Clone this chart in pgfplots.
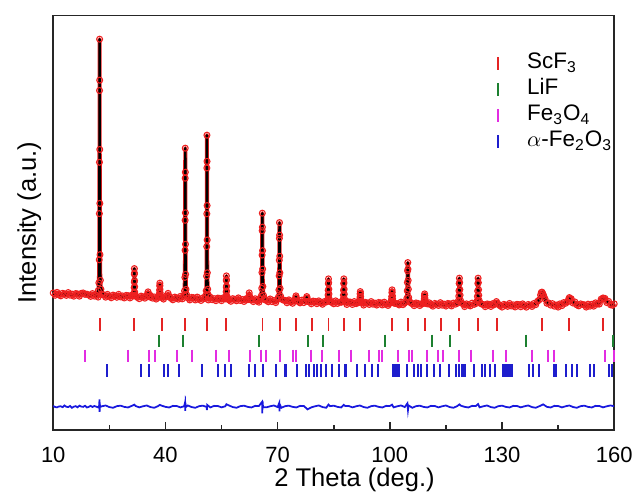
\documentclass[border=0pt]{standalone}
\usepackage{fontspec}
\setmainfont{Liberation Sans}
\usepackage{pgfplots}
\pgfplotsset{compat=1.18}
\definecolor{obsred}{RGB}{238,32,32}
\definecolor{scred}{RGB}{228,36,36}
\definecolor{lifgreen}{RGB}{28,128,48}
\definecolor{femag}{RGB}{226,44,226}
\definecolor{feblue}{RGB}{30,30,205}
\definecolor{diffblue}{RGB}{24,24,222}

\begin{document}
\begin{tikzpicture}
\begin{axis}[
    at={(0,0)}, anchor=south west,
    scale only axis,
    width=255pt, height=188.4pt,
    xmin=10, xmax=160, ymin=0, ymax=414.5,
    xtick={10,40,70,100,130,160},
    minor xtick={25,55,85,115,145},
    ytick=\empty,
    xtick pos=bottom,
    tick align=inside,
    major tick length=3.5pt, minor tick length=2.3pt,
    axis line style={line width=0.8pt, black!85},
    every tick/.style={black!85, line width=0.7pt},
    /pgf/number format/assume math mode=true,
    xticklabel style={font=\fontsize{10}{12}\selectfont, anchor=base, yshift=-14.9pt},
    every axis x label/.style={at={(axis description cs:0.537,0)}, anchor=base, yshift=-25.9pt, font=\fontsize{11.6}{14}\selectfont},
    every axis y label/.style={at={(axis description cs:-0.031,0.5)}, anchor=base, rotate=90, font=\fontsize{11.6}{14}\selectfont},
    xlabel={2 Theta (deg.)},
    ylabel={Intensity (a.u.)},
    legend cell align=left,
    legend image code/.code={\draw[#1] plot coordinates {(0cm,0cm)}; \path[draw=none, fill=none] (-1pt,-3pt) rectangle (11.8pt,3pt);},
    legend style={draw=none, fill=none, inner sep=0pt, at={(axis description cs:0.788,0.916)}, anchor=north west,
        font=\fontsize{10.2}{12}\selectfont, row sep=0pt,
        nodes={inner sep=1.5pt, text height=6.8pt, text depth=2pt}},
]
% observed (open circles on a thin band)
\addplot[forget plot, color=obsred, line width=1.8pt, line join=round, mark=o, mark size=1.35pt, mark options={line width=0.5pt}] coordinates {
(10.0,136.9)(10.5,134.6)(11.0,137.5)(11.5,135.4)(12.0,134.0)(12.5,136.6)(13.0,135.9)(13.5,134.5)(14.0,137.3)(14.5,134.7)
(15.0,135.8)(15.5,133.7)(16.0,136.3)(16.5,135.9)(17.0,133.7)(17.5,136.5)(18.0,136.9)(18.5,135.5)(19.0,135.7)(19.5,134.9)
(20.0,133.5)(20.5,136.3)(21.0,133.8)(21.5,134.8)(22.0,132.8)
(22.05,139.3)(22.20,147.0)(22.30,170.1)(22.34,216.3)(22.36,267.6)(22.38,339.4)(22.40,390.7)(22.42,349.7)(22.44,280.4)(22.46,226.5)(22.50,175.2)(22.60,149.6)(22.75,140.6)
(23.0,135.3)(23.5,135.0)(24.0,132.7)(24.5,135.5)(25.0,133.5)(25.5,132.1)(26.0,134.8)(26.5,134.0)(27.0,132.6)(27.5,135.5)
(28.0,132.9)(28.5,133.9)(29.0,131.9)(29.5,134.5)(30.0,134.2)(30.5,131.9)(31.0,134.7)
(31.35,133.8)(31.50,134.6)(31.60,137.1)(31.64,142.2)(31.66,147.8)(31.68,155.7)(31.70,161.3)(31.72,156.8)(31.74,149.2)(31.76,143.3)(31.80,137.7)(31.90,134.9)(32.05,133.9)
(32.5,132.5)(33.0,131.2)(33.5,133.8)(34.0,133.1)(34.5,131.7)
(35.0,133.8)(35.2,136.0)(35.35,138.0)(35.5,135.8)(35.8,132.9)
(36.0,134.4)(36.5,131.8)(37.0,132.9)(37.5,130.8)(38.0,133.5)
(38.15,132.5)(38.30,132.9)(38.40,134.2)(38.44,136.8)(38.46,139.7)(38.48,143.8)(38.50,146.7)(38.52,144.4)(38.54,140.5)(38.56,137.4)(38.60,134.5)(38.70,133.1)(38.85,132.6)
(39.0,133.0)(39.5,130.8)(40.0,133.6)(40.4,133.2)(40.7,136.5)(41.0,133.4)
(41.5,131.5)(42.0,130.1)(42.5,132.8)(43.0,132.0)(43.5,130.7)(44.0,133.5)(44.5,131.0)
(44.95,134.5)(45.10,139.0)(45.20,152.5)(45.24,179.6)(45.26,209.6)(45.28,251.7)(45.30,281.7)(45.32,257.7)(45.34,217.1)(45.36,185.6)(45.40,155.5)(45.50,140.5)(45.65,135.3)
(46.0,131.9)(46.5,129.9)(47.0,132.5)(47.5,132.2)(48.0,129.9)(48.5,132.8)(49.0,130.7)(49.5,129.4)(50.0,132.0)(50.5,131.3)
(50.75,134.2)(50.90,139.1)(51.00,153.8)(51.04,183.3)(51.06,216.1)(51.08,261.9)(51.10,294.7)(51.12,268.5)(51.14,224.3)(51.16,189.9)(51.20,157.1)(51.30,140.7)(51.45,135.0)
(51.5,129.9)(52.0,132.7)(52.5,130.2)(53.0,131.2)(53.5,129.2)(54.0,131.8)(54.5,131.5)(55.0,129.2)(55.5,132.1)
(55.95,130.9)(56.10,131.6)(56.20,133.7)(56.24,138.0)(56.26,142.7)(56.28,149.3)(56.30,154.0)(56.32,150.2)(56.34,143.9)(56.36,138.9)(56.40,134.2)(56.50,131.8)(56.65,131.0)
(57.0,129.9)(57.5,128.6)(58.0,131.2)(58.5,130.5)(59.0,129.1)(59.5,132.0)(60.0,129.4)(60.5,130.4)(61.0,128.4)(61.5,131.0)
(62.0,130.2)(62.25,133.0)(62.4,137.0)(62.55,133.5)(62.8,130.0)
(63.0,130.5)(63.5,128.3)(64.0,131.1)(64.5,129.0)(65.0,127.7)
(65.38,131.1)(65.60,133.8)(65.75,141.6)(65.81,157.3)(65.84,174.8)(65.87,199.2)(65.90,216.7)(65.93,202.7)(65.96,179.2)(65.99,160.8)(66.05,143.4)(66.20,134.6)(66.42,131.6)
(66.5,130.2)(67.0,129.4)(67.5,128.1)(68.0,130.9)(68.5,128.3)(69.0,129.4)(69.5,127.3)
(69.98,130.5)(70.20,132.8)(70.35,139.9)(70.41,154.0)(70.44,169.7)(70.47,191.6)(70.50,207.3)(70.53,194.8)(70.56,173.6)(70.59,157.1)(70.65,141.4)(70.80,133.6)(71.02,130.9)
(71.5,129.8)(72.0,129.4)(72.5,127.1)(73.0,130.0)(73.5,127.9)(74.0,126.6)(74.5,129.2)
(74.65,129.0)(74.8,132.0)(74.9,134.0)(75.0,132.3)(75.25,129.0)
(75.5,128.4)(76.0,127.0)(76.5,129.8)(77.0,127.3)
(77.5,128.6)(77.7,131.5)(77.8,133.3)(77.9,131.8)(78.1,128.4)
(78.5,128.2)(79.0,126.1)(79.5,128.8)(80.0,128.4)(80.5,126.2)(81.0,129.0)(81.5,127.0)(82.0,125.6)(82.5,128.3)
(82.90,127.7)(83.20,128.4)(83.40,130.5)(83.48,134.8)(83.52,139.6)(83.56,146.2)(83.60,151.0)(83.64,147.2)(83.68,140.8)(83.72,135.8)(83.80,131.0)(84.00,128.6)(84.30,127.8)
(84.5,127.5)(85.0,126.1)(85.5,129.0)(86.0,126.4)(86.5,127.5)
(87.00,127.6)(87.30,128.3)(87.50,130.4)(87.58,134.7)(87.62,139.5)(87.66,146.2)(87.70,151.0)(87.74,147.2)(87.78,140.7)(87.82,135.7)(87.90,130.9)(88.10,128.5)(88.40,127.7)
(88.5,125.4)(89.0,128.0)(89.5,127.7)(90.0,125.4)(90.5,128.3)(91.0,126.3)
(91.40,127.0)(91.70,127.4)(91.90,128.4)(91.98,130.5)(92.02,132.8)(92.06,136.0)(92.10,138.3)(92.14,136.5)(92.18,133.4)(92.22,131.0)(92.30,128.6)(92.50,127.5)(92.80,127.1)
(93.0,124.8)(93.5,127.5)(94.0,126.8)(94.5,125.4)(95.0,128.3)(95.5,125.7)(96.0,126.8)(96.5,124.8)(97.0,127.4)(97.5,127.1)(98.0,124.9)(98.5,127.7)(99.0,125.7)(99.5,124.4)
(99.72,126.3)(100.10,126.7)(100.35,128.0)(100.45,130.5)(100.50,133.3)(100.55,137.2)(100.60,140.0)(100.65,137.8)(100.70,134.0)(100.75,131.0)(100.85,128.2)(101.10,126.8)(101.47,126.4)
(102.0,126.2)(102.5,124.9)(103.0,127.8)(103.5,125.2)
(103.92,126.6)(104.30,127.9)(104.55,131.6)(104.65,139.1)(104.70,147.4)(104.75,159.0)(104.80,167.3)(104.85,160.7)(104.90,149.5)(104.95,140.7)(105.05,132.4)(105.30,128.3)(105.67,126.8)
(106.0,126.2)(106.5,124.2)(107.0,126.9)(107.5,126.5)(108.0,124.3)
(108.42,125.8)(108.80,126.1)(109.05,127.1)(109.15,128.9)(109.20,131.0)(109.25,133.9)(109.30,136.0)(109.35,134.3)(109.40,131.5)(109.45,129.3)(109.55,127.3)(109.80,126.2)(110.17,125.9)
(110.5,127.1)(111.0,125.1)(111.5,123.7)(112.0,126.4)(112.5,125.7)(113.0,124.4)(113.5,127.2)(114.0,124.7)(114.5,125.8)(115.0,123.8)(115.5,126.4)(116.0,126.1)(116.5,123.9)(117.0,126.8)
(117.55,125.7)(118.00,126.5)(118.30,128.9)(118.42,133.7)(118.48,139.0)(118.54,146.4)(118.60,151.7)(118.66,147.5)(118.72,140.3)(118.78,134.7)(118.90,129.4)(119.20,126.8)(119.65,125.9)
(120.0,123.3)(120.5,126.0)(121.0,125.3)(121.5,123.9)(122.0,126.8)
(122.55,125.5)(123.00,126.3)(123.30,128.7)(123.42,133.5)(123.48,138.9)(123.54,146.4)(123.60,151.7)(123.66,147.4)(123.72,140.2)(123.78,134.6)(123.90,129.3)(124.20,126.6)(124.65,125.7)
(125.0,125.3)(125.5,123.2)(126.0,125.9)(126.5,125.6)(127.0,123.4)(127.5,126.2)
(127.8,125.0)(128.2,126.5)(128.5,128.3)(128.8,126.6)(129.2,125.0)
(129.5,124.1)(130.0,122.8)(130.5,125.5)(131.0,124.8)(131.5,123.5)(132.0,126.4)(132.5,123.9)(133.0,125.0)(133.5,122.9)(134.0,125.6)
(134.5,125.3)(135.0,123.1)(135.5,126.0)(136.0,124.0)(136.5,122.7)(137.0,125.4)(137.5,124.7)(138.0,123.4)
(138.5,126.4)(139.0,125.2)(139.5,128.6)(140.0,130.2)(140.3,134.9)(140.5,137.4)(140.7,137.7)(140.9,136.2)(141.0,135.0)(141.2,133.4)(141.5,130.9)(142.0,126.6)(142.5,126.9)(143.0,124.8)
(143.5,126.2)(144.0,123.7)(144.5,124.8)(145.0,122.8)
(145.5,126.0)(146.0,124.2)(146.5,127.3)(147.0,126.6)(147.5,128.0)(147.8,130.6)(148.0,132.3)(148.2,131.3)(148.5,131.1)(149.0,126.8)(149.5,127.9)(150.0,125.0)(150.5,124.0)(151.0,126.0)
(151.5,125.4)(152.0,125.0)(152.5,122.8)(153.0,125.7)(153.5,123.7)
(154.0,125.6)(154.5,123.7)(155.0,127.0)(155.5,125.8)(156.0,125.8)(156.5,130.7)(156.8,130.5)(157.0,131.9)(157.2,131.4)(157.5,131.5)(158.0,127.3)(158.5,128.5)(159.0,125.1)(159.5,124.6)(160.0,126.0)
};
% calculated profile
\addplot[forget plot, black, line width=1.1pt, line join=round] coordinates {
(10,136.0)(12,135.7)(14,135.4)(16,135.1)(17.5,135.0)(18.2,136.8)(18.9,135.0)(20,134.5)(21.5,134.3)
(22.05,139.3)(22.20,147.0)(22.30,170.1)(22.34,216.3)(22.36,267.6)(22.38,339.4)(22.40,390.7)(22.42,349.7)(22.44,280.4)(22.46,226.5)(22.50,175.2)(22.60,149.6)(22.75,140.6)
(24,134.0)(26,133.75)(28,133.5)(30,133.25)
(31.35,133.8)(31.50,134.6)(31.60,137.1)(31.64,142.2)(31.66,147.8)(31.68,155.7)(31.70,161.3)(31.72,156.8)(31.74,149.2)(31.76,143.3)(31.80,137.7)(31.90,134.9)(32.05,133.9)
(33.5,132.8)(34.8,132.7)(35.2,135.0)(35.35,137.0)(35.5,135.0)(35.8,132.6)(37,132.4)
(38.15,132.5)(38.30,132.9)(38.40,134.2)(38.44,136.8)(38.46,139.7)(38.48,143.8)(38.50,146.7)(38.52,144.4)(38.54,140.5)(38.56,137.4)(38.60,134.5)(38.70,133.1)(38.85,132.6)
(40.0,132.0)(40.4,132.6)(40.7,135.5)(41.0,132.6)(42.5,131.75)(44.3,131.6)
(44.95,134.5)(45.10,139.0)(45.20,152.5)(45.24,179.6)(45.26,209.6)(45.28,251.7)(45.30,281.7)(45.32,257.7)(45.34,217.1)(45.36,185.6)(45.40,155.5)(45.50,140.5)(45.65,135.3)
(47,131.3)(49,131.1)(50.5,130.95)
(50.75,134.2)(50.90,139.1)(51.00,153.8)(51.04,183.3)(51.06,216.1)(51.08,261.9)(51.10,294.7)(51.12,268.5)(51.14,224.3)(51.16,189.9)(51.20,157.1)(51.30,140.7)(51.45,135.0)
(53,130.7)(55,130.5)
(55.95,130.9)(56.10,131.6)(56.20,133.7)(56.24,138.0)(56.26,142.7)(56.28,149.3)(56.30,154.0)(56.32,150.2)(56.34,143.9)(56.36,138.9)(56.40,134.2)(56.50,131.8)(56.65,131.0)
(58,130.2)(60,130.0)(61.8,129.8)(62.1,130.3)(62.25,132.5)(62.4,136.0)(62.55,132.8)(62.8,130.0)(64,129.5)
(65.38,131.1)(65.60,133.8)(65.75,141.6)(65.81,157.3)(65.84,174.8)(65.87,199.2)(65.90,216.7)(65.93,202.7)(65.96,179.2)(65.99,160.8)(66.05,143.4)(66.20,134.6)(66.42,131.6)
(68,129.0)(69.5,128.9)
(69.98,130.5)(70.20,132.8)(70.35,139.9)(70.41,154.0)(70.44,169.7)(70.47,191.6)(70.50,207.3)(70.53,194.8)(70.56,173.6)(70.59,157.1)(70.65,141.4)(70.80,133.6)(71.02,130.9)
(73,128.4)(74.5,128.3)(74.75,130.5)(74.9,133.5)(75.05,131.0)(75.3,128.2)(77.3,127.9)(77.65,130.0)(77.8,132.8)(77.95,130.4)(78.3,127.7)(80,127.5)(82.3,127.3)
(82.90,127.7)(83.20,128.4)(83.40,130.5)(83.48,134.8)(83.52,139.6)(83.56,146.2)(83.60,151.0)(83.64,147.2)(83.68,140.8)(83.72,135.8)(83.80,131.0)(84.00,128.6)(84.30,127.8)
(86,127.05)
(87.00,127.6)(87.30,128.3)(87.50,130.4)(87.58,134.7)(87.62,139.5)(87.66,146.2)(87.70,151.0)(87.74,147.2)(87.78,140.7)(87.82,135.7)(87.90,130.9)(88.10,128.5)(88.40,127.7)
(90,126.75)
(91.40,127.0)(91.70,127.4)(91.90,128.4)(91.98,130.5)(92.02,132.8)(92.06,136.0)(92.10,138.3)(92.14,136.5)(92.18,133.4)(92.22,131.0)(92.30,128.6)(92.50,127.5)(92.80,127.1)
(95,126.4)(98,126.15)
(99.72,126.3)(100.10,126.7)(100.35,128.0)(100.45,130.5)(100.50,133.3)(100.55,137.2)(100.60,140.0)(100.65,137.8)(100.70,134.0)(100.75,131.0)(100.85,128.2)(101.10,126.8)(101.47,126.4)
(102.5,125.9)
(103.92,126.6)(104.30,127.9)(104.55,131.6)(104.65,139.1)(104.70,147.4)(104.75,159.0)(104.80,167.3)(104.85,160.7)(104.90,149.5)(104.95,140.7)(105.05,132.4)(105.30,128.3)(105.67,126.8)
(107,125.65)
(108.42,125.8)(108.80,126.1)(109.05,127.1)(109.15,128.9)(109.20,131.0)(109.25,133.9)(109.30,136.0)(109.35,134.3)(109.40,131.5)(109.45,129.3)(109.55,127.3)(109.80,126.2)(110.17,125.9)
(112,125.4)(115,125.25)
(117.55,125.7)(118.00,126.5)(118.30,128.9)(118.42,133.7)(118.48,139.0)(118.54,146.4)(118.60,151.7)(118.66,147.5)(118.72,140.3)(118.78,134.7)(118.90,129.4)(119.20,126.8)(119.65,125.9)
(121,124.95)
(122.55,125.5)(123.00,126.3)(123.30,128.7)(123.42,133.5)(123.48,138.9)(123.54,146.4)(123.60,151.7)(123.66,147.4)(123.72,140.2)(123.78,134.6)(123.90,129.3)(124.20,126.6)(124.65,125.7)
(126,124.7)(127.8,124.65)(128.2,126.0)(128.5,128.0)(128.8,126.1)(129.2,124.6)(132,124.5)(135,124.4)(137,124.5)
(138.0,125.2)(139.0,126.3)(139.5,127.8)(140.0,131.0)(140.3,134.4)(140.5,136.7)(140.7,137.7)(140.9,136.7)(141.1,134.4)(141.4,131.0)(141.9,127.8)(142.4,126.3)(143.5,125.2)
(145.0,124.8)(146.0,125.4)(147.0,127.2)(147.5,129.4)(147.8,130.9)(148.1,131.7)(148.4,131.0)(148.7,129.4)(149.2,127.2)(150.0,125.6)(151.0,124.8)(152.0,124.5)
(153.0,124.5)(154.0,124.7)(155.0,125.4)(156.0,127.5)(156.5,129.7)(156.8,131.1)(157.1,131.7)(157.4,131.1)(157.7,129.7)(158.2,127.5)(159.2,125.4)(160.0,124.8)
};
% difference curve
\addplot[forget plot, diffblue, line width=0.8pt] coordinates {
(10,23.9)(10.5,22.9)(11,22.5)(11.5,23.4)(12,23.6)(12.5,22.7)(13,24.4)(13.5,23.1)(14,22.8)(14.5,23.9)(15,22.1)(15.5,23.2)(16,23.7)(16.5,22.6)(17,24.2)(17.5,23.3)(18,23.0)(18.5,24.1)(19,22.4)(19.5,23.0)(20,24.0)(20.5,22.9)(21,23.9)(21.5,23.2)(22,22.5)
(22.3,24.5)(22.36,30.5)(22.40,18.0)(22.44,27.5)(22.5,22.8)
(23,23.6)(24,24.4)(25,22.8)(26,22.1)(27,23.7)(28,24.2)(29,23.0)(30,22.4)(31,24.0)(31.7,25.2)(32,23.9)(33,22.5)(34,23.6)
(35,24.4)(36,22.8)(37,22.1)(38,23.7)(38.5,25.0)(39,24.2)(40,23.0)(41,22.4)(42,24.0)(43,23.9)(44,22.5)(45,23.6)
(45.25,27.5)(45.3,19.0)(45.36,26.0)(45.5,23.0)
(46,24.4)(47,22.8)(48,22.1)(49,23.7)(50,24.2)(51,23.0)(51.1,19.8)(51.16,25.0)(52,22.4)(53,24.0)(54,23.9)(55,22.5)
(56,23.6)(56.3,25.6)(57,24.4)(58,22.8)(59,22.1)(60,23.7)(61,24.2)(62,23.0)(63,22.4)(64,24.0)(65,23.9)
(65.84,28.0)(65.90,16.5)(65.96,29.0)(66.1,22.5)
(67,22.5)(68,23.6)(69,24.4)(70,22.8)(70.44,27.0)(70.5,18.5)(70.56,25.5)(71,22.1)(72,23.7)(73,24.2)(74,23.0)
(75,22.4)(76,24.0)(77,23.9)(78,20.5)(79,22.5)(80,23.6)(81,24.4)(82,22.8)(83,22.1)(83.6,25.3)(84,23.7)(85,24.2)
(86,23.0)(87,22.4)(87.7,25.0)(88,24.0)(89,23.9)(90,22.5)(91,23.6)(92,24.4)(93,22.8)(94,22.1)(95,23.7)(96,24.2)
(97,23.0)(98,22.4)(99,24.0)(100,23.9)(100.6,25.2)(101,22.5)(102,23.6)(103,24.4)(104,22.8)(104.7,26.5)(104.85,20.0)(105,24.5)
(106,22.1)(107,23.7)(108,24.2)(109,23.0)(110,22.4)(111,24.0)(112,23.9)(113,22.5)(114,23.6)(115,24.4)(116,22.8)
(117,22.1)(118,23.7)(118.6,25.5)(119,24.2)(120,23.0)(121,22.4)(122,24.0)(123,23.9)(123.6,25.8)(124,22.5)(125,23.6)
(126,24.4)(127,22.8)(128,22.1)(129,23.7)(130,24.2)(131,23.0)(132,22.4)(133,24.0)(134,23.9)(135,22.5)(136,23.6)
(137,24.4)(138,22.8)(139,22.1)(140,23.7)(141,25.5)(142,23.0)(143,22.4)(144,24.0)(145,23.9)(146,22.5)(147,23.6)
(148,24.4)(149,22.8)(150,22.1)(151,23.7)(152,24.2)(153,23.0)(154,22.4)(155,24.0)(156,23.9)(157,22.5)(158,23.6)
(159,24.4)(160,23.6)
};
% Bragg positions
\addplot[only marks, mark=|, mark size=2.8pt, color=scred, mark options={line width=0.9pt}] coordinates {
(22.4,105.3)(31.7,105.3)(39.0,105.3)(45.3,105.3)(51.1,105.3)(56.3,105.3)(65.95,105.3)(70.55,105.3)(75.0,105.3)
(79.3,105.3)(83.6,105.3)(87.7,105.3)(92.1,105.3)(100.6,105.3)(104.9,105.3)(109.3,105.3)(113.8,105.3)(118.6,105.3)
(123.6,105.3)(128.6,105.3)(140.7,105.3)(148.0,105.3)(157.1,105.3)
};
\addlegendentry{ScF\textsubscript{3}}
\addplot[only marks, mark=|, mark size=2.8pt, color=lifgreen, mark options={line width=0.9pt}] coordinates {
(38.4,89)(44.7,89)(65.1,89)(78.0,89)(82.1,89)(98.8,89)(111.4,89)(116.0,89)(136.5,89)(159.8,89)
};
\addlegendentry{LiF}
\addplot[only marks, mark=|, mark size=2.8pt, color=femag, mark options={line width=0.9pt}] coordinates {
(18.6,74)(30.1,74)(35.6,74)(37.1,74)(43.1,74)(47.2,74)(53.4,74)(57.1,74)(62.5,74)(65.6,74)(66.8,74)(70.7,74)
(74.0,74)(75.0,74)(79.0,74)(81.8,74)(86.5,74)(89.6,74)(94.3,74)(97.2,74)(98.0,74)(102.1,74)(105.0,74)(105.9,74)
(109.9,74)(113.0,74)(114.2,74)(118.4,74)(121.8,74)(127.6,74)(131.0,74)(138.0,74)(142.4,74)(144.0,74)(157.6,74)(160.0,74)
};
\addlegendentry{Fe\textsubscript{3}O\textsubscript{4}}
\addplot[only marks, mark=|, mark size=2.8pt, color=feblue, mark options={line width=0.9pt}] coordinates {
(24.4,59.5)(33.5,59.5)(35.7,59.5)(39.5,59.5)(40.8,59.5)(43.7,59.5)(49.8,59.5)(54.0,59.5)(56.0,59.5)(57.6,59.5)
(62.4,59.5)(64.0,59.5)(66.1,59.5)(69.6,59.5)(71.9,59.5)(72.3,59.5)(75.2,59.5)(77.6,59.5)(78.5,59.5)(79.6,59.5)
(80.5,59.5)(81.6,59.5)(83.0,59.5)(84.5,59.5)(86.3,59.5)(87.9,59.5)(88.3,59.5)(91.2,59.5)(93.4,59.5)(95.2,59.5)
(96.8,59.5)(100.9,59.5)(101.3,59.5)(101.7,59.5)(102.1,59.5)(102.5,59.5)(104.7,59.5)(106.5,59.5)(107.4,59.5)
(108.3,59.5)(109.9,59.5)(111.7,59.5)(113.5,59.5)(115.9,59.5)(117.7,59.5)(118.6,59.5)(119.2,59.5)(119.6,59.5)
(120.0,59.5)(122.4,59.5)(124.6,59.5)(125.5,59.5)(126.7,59.5)(128.0,59.5)(130.3,59.5)(130.8,59.5)(131.3,59.5)
(131.8,59.5)(132.3,59.5)(132.7,59.5)(137.1,59.5)(138.4,59.5)(139.8,59.5)(143.8,59.5)(144.3,59.5)(147.2,59.5)
(148.7,59.5)(150.0,59.5)(153.6,59.5)(154.5,59.5)(158.5,59.5)(159.4,59.5)
};
\addlegendentry{$\alpha$-Fe\textsubscript{2}O\textsubscript{3}}
\end{axis}
\pgfresetboundingbox
\path (-24.2pt,-31.4pt) rectangle (265.8pt,195.4pt);
\end{tikzpicture}
\end{document}
